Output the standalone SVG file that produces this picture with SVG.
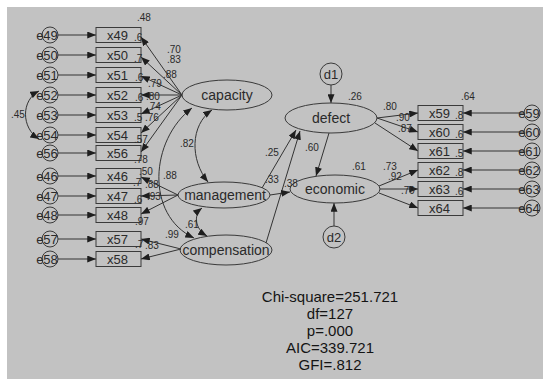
<svg xmlns="http://www.w3.org/2000/svg" width="543" height="381" viewBox="0 0 543 381">
<style>
.bg{fill:#c2c2c2}
.box{fill:none;stroke:#3a3a3a;stroke-width:1}
.lat{fill:none;stroke:#3a3a3a;stroke-width:1}
.err{fill:none;stroke:#3a3a3a;stroke-width:1}
.ln{fill:none;stroke:#333;stroke-width:1;marker-end:url(#ah)}
.bi{fill:none;stroke:#333;stroke-width:1;marker-start:url(#ah);marker-end:url(#ah)}
text{font-family:"Liberation Sans",Arial,sans-serif;fill:#2a2a2a}
.bl{font-size:13px}
.ll{font-size:14px;text-anchor:middle}
.el{font-size:13px;text-anchor:middle}
.n{font-size:10px}
.fit{font-size:15px;text-anchor:middle;fill:#141414}
</style>
<defs>
<marker id="ah" viewBox="0 0 10 8" refX="10" refY="4" markerWidth="9" markerHeight="7" markerUnits="userSpaceOnUse" orient="auto-start-reverse"><path d="M0,0L10,4L0,8z" fill="#1e1e1e"/></marker>
</defs>
<rect class="bg" x="7" y="7" width="536" height="372"/>

<g id="connectors">
<line class="ln" x1="58" y1="35" x2="96" y2="35"/>
<line class="ln" x1="58" y1="55" x2="96" y2="55"/>
<line class="ln" x1="58" y1="75" x2="96" y2="75"/>
<line class="ln" x1="58" y1="95" x2="96" y2="95"/>
<line class="ln" x1="58" y1="115" x2="96" y2="115"/>
<line class="ln" x1="58" y1="135" x2="96" y2="135"/>
<line class="ln" x1="58" y1="153" x2="96" y2="153"/>
<line class="ln" x1="58" y1="176" x2="96" y2="176"/>
<line class="ln" x1="58" y1="196" x2="96" y2="196"/>
<line class="ln" x1="58" y1="215" x2="96" y2="215"/>
<line class="ln" x1="58" y1="239" x2="96" y2="239"/>
<line class="ln" x1="58" y1="259" x2="96" y2="259"/>
<line class="ln" x1="524" y1="113" x2="463" y2="113"/>
<line class="ln" x1="524" y1="132" x2="463" y2="132"/>
<line class="ln" x1="524" y1="151" x2="463" y2="151"/>
<line class="ln" x1="524" y1="170" x2="463" y2="170"/>
<line class="ln" x1="524" y1="189" x2="463" y2="189"/>
<line class="ln" x1="524" y1="208" x2="463" y2="208"/>
<line class="ln" x1="182" y1="95" x2="141" y2="37"/>
<line class="ln" x1="182" y1="95" x2="141" y2="57"/>
<line class="ln" x1="182" y1="95" x2="141" y2="76"/>
<line class="ln" x1="182" y1="95" x2="141" y2="95"/>
<line class="ln" x1="182" y1="95" x2="141" y2="114"/>
<line class="ln" x1="182" y1="95" x2="141" y2="133"/>
<line class="ln" x1="182" y1="95" x2="141" y2="152"/>
<line class="ln" x1="178" y1="195" x2="141" y2="177"/>
<line class="ln" x1="178" y1="195" x2="141" y2="196"/>
<line class="ln" x1="178" y1="195" x2="141" y2="214"/>
<line class="ln" x1="181" y1="249" x2="141" y2="239"/>
<line class="ln" x1="181" y1="249" x2="141" y2="259"/>
<path class="bi" d="M39,91 C21,100 21,128 39,139"/>
<path class="bi" d="M212,110 C190,125 190,160 208,182"/>
<path class="bi" d="M192,108 C150,140 145,215 194,238"/>
<path class="bi" d="M202,208 C193,215 195,229 207,236"/>
<line class="ln" x1="262" y1="188" x2="296" y2="130"/>
<line class="ln" x1="266" y1="243" x2="300" y2="131"/>
<line class="ln" x1="270" y1="195" x2="290" y2="192"/>
<line class="ln" x1="329" y1="133" x2="316" y2="176"/>
<line class="ln" x1="331" y1="85" x2="331" y2="103"/>
<line class="ln" x1="334" y1="226" x2="334" y2="203"/>
<line class="ln" x1="377" y1="118" x2="418" y2="113"/>
<line class="ln" x1="377" y1="118" x2="418" y2="132"/>
<line class="ln" x1="375" y1="123" x2="418" y2="151"/>
<line class="ln" x1="379" y1="186" x2="418" y2="170"/>
<line class="ln" x1="380" y1="189" x2="418" y2="189"/>
<line class="ln" x1="379" y1="193" x2="418" y2="208"/>
</g>

<g id="e49"><circle class="err" cx="50" cy="35" r="8"/><text class="el" x="47" y="40">e49</text></g>
<g id="e50"><circle class="err" cx="50" cy="55" r="8"/><text class="el" x="47" y="60">e50</text></g>
<g id="e51"><circle class="err" cx="50" cy="75" r="8"/><text class="el" x="47" y="80">e51</text></g>
<g id="e52"><circle class="err" cx="50" cy="95" r="8"/><text class="el" x="47" y="100">e52</text></g>
<g id="e53"><circle class="err" cx="50" cy="115" r="8"/><text class="el" x="47" y="120">e53</text></g>
<g id="e54"><circle class="err" cx="50" cy="135" r="8"/><text class="el" x="47" y="140">e54</text></g>
<g id="e56"><circle class="err" cx="50" cy="153" r="8"/><text class="el" x="47" y="158">e56</text></g>
<g id="e46"><circle class="err" cx="50" cy="176" r="8"/><text class="el" x="47" y="181">e46</text></g>
<g id="e47"><circle class="err" cx="50" cy="196" r="8"/><text class="el" x="47" y="201">e47</text></g>
<g id="e48"><circle class="err" cx="50" cy="215" r="8"/><text class="el" x="47" y="220">e48</text></g>
<g id="e57"><circle class="err" cx="50" cy="239" r="8"/><text class="el" x="47" y="244">e57</text></g>
<g id="e58"><circle class="err" cx="50" cy="259" r="8"/><text class="el" x="47" y="264">e58</text></g>

<g id="e59"><circle class="err" cx="532" cy="113" r="8"/><text class="el" x="529" y="118">e59</text></g>
<g id="e60"><circle class="err" cx="532" cy="132" r="8"/><text class="el" x="529" y="137">e60</text></g>
<g id="e61"><circle class="err" cx="532" cy="151" r="8"/><text class="el" x="529" y="156">e61</text></g>
<g id="e62"><circle class="err" cx="532" cy="170" r="8"/><text class="el" x="529" y="175">e62</text></g>
<g id="e63"><circle class="err" cx="532" cy="189" r="8"/><text class="el" x="529" y="194">e63</text></g>
<g id="e64"><circle class="err" cx="532" cy="208" r="8"/><text class="el" x="529" y="213">e64</text></g>

<g id="x49"><rect class="box" x="96" y="27.5" width="45" height="15"/><text class="bl" x="107" y="40">x49</text><text class="n" x="134" y="41">.6</text></g>
<g id="x50"><rect class="box" x="96" y="47.5" width="45" height="15"/><text class="bl" x="107" y="60">x50</text><text class="n" x="134" y="62">.7</text></g>
<g id="x51"><rect class="box" x="96" y="67.5" width="45" height="15"/><text class="bl" x="107" y="80">x51</text><text class="n" x="135" y="81">.6</text></g>
<g id="x52"><rect class="box" x="96" y="87.5" width="45" height="15"/><text class="bl" x="107" y="100">x52</text><text class="n" x="135" y="101">.6</text></g>
<g id="x53"><rect class="box" x="96" y="107.5" width="45" height="15"/><text class="bl" x="107" y="120">x53</text><text class="n" x="134" y="121">.5</text></g>
<g id="x54"><rect class="box" x="96" y="127.5" width="45" height="15"/><text class="bl" x="107" y="140">x54</text></g>
<g id="x56"><rect class="box" x="96" y="145.5" width="45" height="15"/><text class="bl" x="107" y="158">x56</text></g>
<g id="x46"><rect class="box" x="96" y="168.5" width="45" height="15"/><text class="bl" x="107" y="181">x46</text><text class="n" x="133" y="186">.7</text></g>
<g id="x47"><rect class="box" x="96" y="188.5" width="45" height="15"/><text class="bl" x="107" y="201">x47</text><text class="n" x="134" y="203">.6</text></g>
<g id="x48"><rect class="box" x="96" y="207.5" width="45" height="15"/><text class="bl" x="107" y="220">x48</text></g>
<g id="x57"><rect class="box" x="96" y="231.5" width="45" height="15"/><text class="bl" x="107" y="244">x57</text><text class="n" x="135" y="248">.7</text></g>
<g id="x58"><rect class="box" x="96" y="251.5" width="45" height="15"/><text class="bl" x="107" y="264">x58</text></g>

<g id="x59"><rect class="box" x="418" y="105.5" width="45" height="15"/><text class="bl" x="429" y="118">x59</text><text class="n" x="455" y="119">.8</text></g>
<g id="x60"><rect class="box" x="418" y="124.5" width="45" height="15"/><text class="bl" x="429" y="137">x60</text><text class="n" x="455" y="138">.6</text></g>
<g id="x61"><rect class="box" x="418" y="143.5" width="45" height="15"/><text class="bl" x="429" y="156">x61</text><text class="n" x="455" y="157">.5</text></g>
<g id="x62"><rect class="box" x="418" y="162.5" width="45" height="15"/><text class="bl" x="429" y="175">x62</text><text class="n" x="455" y="176">.8</text></g>
<g id="x63"><rect class="box" x="418" y="181.5" width="45" height="15"/><text class="bl" x="429" y="194">x63</text><text class="n" x="455" y="195">.6</text></g>
<g id="x64"><rect class="box" x="418" y="200.5" width="45" height="15"/><text class="bl" x="429" y="213">x64</text></g>

<g id="capacity"><ellipse class="lat" cx="227" cy="95" rx="45" ry="15"/><text class="ll" x="227" y="100">capacity</text></g>
<g id="management"><ellipse class="lat" cx="224" cy="195" rx="46" ry="13"/><text class="ll" x="225" y="200">management</text></g>
<g id="compensation"><ellipse class="lat" cx="226" cy="250" rx="46" ry="15"/><text class="ll" x="226" y="255">compensation</text></g>
<g id="defect"><ellipse class="lat" cx="331" cy="118" rx="46" ry="15"/><text class="ll" x="331" y="123">defect</text></g>
<g id="economic"><ellipse class="lat" cx="335" cy="189" rx="45" ry="14"/><text class="ll" x="335" y="194">economic</text></g>
<g id="d1"><circle class="err" cx="331" cy="74" r="11"/><text class="ll" x="331" y="79" style="font-size:13px">d1</text></g>
<g id="d2"><circle class="err" cx="334" cy="237" r="11"/><text class="ll" x="334" y="242" style="font-size:13px">d2</text></g>

<g id="labels">
<text class="n" x="137" y="21">.48</text>
<text class="n" x="167" y="53">.70</text>
<text class="n" x="167" y="63">.83</text>
<text class="n" x="163" y="78">.88</text>
<text class="n" x="148" y="87">.79</text>
<text class="n" x="146" y="100">.80</text>
<text class="n" x="147" y="110">.74</text>
<text class="n" x="145" y="121">.76</text>
<text class="n" x="134" y="143">.57</text>
<text class="n" x="134" y="163">.78</text>
<text class="n" x="139" y="175">.50</text>
<text class="n" x="145" y="188">.88</text>
<text class="n" x="147" y="200">.93</text>
<text class="n" x="135" y="225">.97</text>
<text class="n" x="145" y="249">.83</text>
<text class="n" x="165" y="238">.99</text>
<text class="n" x="163" y="179">.88</text>
<text class="n" x="180" y="147">.82</text>
<text class="n" x="185" y="228">.61</text>
<text class="n" x="11" y="118">.45</text>
<text class="n" x="265" y="156">.25</text>
<text class="n" x="265" y="183">.33</text>
<text class="n" x="284" y="187">.38</text>
<text class="n" x="305" y="151">.60</text>
<text class="n" x="348" y="100">.26</text>
<text class="n" x="352" y="170">.61</text>
<text class="n" x="383" y="110">.80</text>
<text class="n" x="396" y="121">.90</text>
<text class="n" x="398" y="132">.87</text>
<text class="n" x="383" y="170">.73</text>
<text class="n" x="388" y="180">.92</text>
<text class="n" x="401" y="194">.79</text>
<text class="n" x="461" y="100">.64</text>
</g>

<g id="fit">
<text class="fit" x="330" y="302">Chi-square=251.721</text>
<text class="fit" x="330" y="319">df=127</text>
<text class="fit" x="330" y="336">p=.000</text>
<text class="fit" x="330" y="353">AIC=339.721</text>
<text class="fit" x="330" y="370">GFI=.812</text>
</g>
</svg>
